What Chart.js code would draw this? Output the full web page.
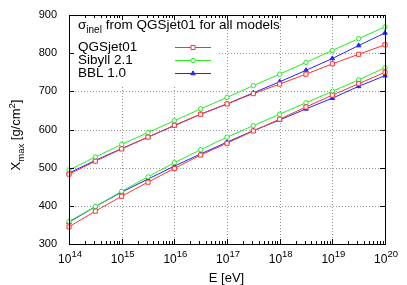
<!DOCTYPE html>
<html>
<head>
<meta charset="utf-8">
<script src="https://cdn.jsdelivr.net/npm/chart.js@4/dist/chart.umd.min.js"></script>
<style>
  html, body { margin: 0; padding: 0; background: #fff; }
  #wrap { width: 407px; height: 285px; }
</style>
</head>
<body>
<div id="wrap"><canvas id="myChart"></canvas></div>
<script>
// energies in eV (half-decade steps)
const energies = [1e14, 3.16e14, 1e15, 3.16e15, 1e16, 3.16e16, 1e17, 3.16e17, 1e18, 3.16e18, 1e19, 3.16e19, 1e20];

// Xmax in g/cm^2, proton (upper) and iron (lower) for each model
const qgsjetP  = [483, 517, 549, 580, 611, 640, 667, 694, 719, 745, 772, 797, 822];
const sibyllP  = [494, 528, 561, 592, 623, 654, 684, 715, 745, 776, 807, 838, 869];
const bblP     = [486, 519, 550, 580, 610, 640, 667, 696, 725, 755, 786, 820, 853];
const qgsjetFe = [345, 386, 425, 462, 498, 533, 564, 596, 627, 659, 690, 720, 750];
const sibyllFe = [359, 398, 438, 476, 513, 547, 580, 610, 640, 670, 700, 730, 762];
const bblFe    = [357, 398, 436, 470, 504, 536, 567, 597, 625, 654, 682, 713, 741];

const models = ['QGSjet01', 'Sibyll 2.1', 'BBL 1.0'];
const xExponents = [14, 15, 16, 17, 18, 19, 20];
const yTicks = [300, 400, 500, 600, 700, 800, 900];

const styles = [
  { color: '#ff3333', point: 'rect', radius: 2.9, fill: '#ffffff' },
  { color: '#22ee22', point: 'circle', radius: 2.2, fill: '#ffffff' },
  { color: '#2424ff', point: 'triangle', radius: 2.6, fill: '#2424ff' }
];

const series = [[qgsjetP, qgsjetFe], [sibyllP, sibyllFe], [bblP, bblFe]];

const datasets = [];
series.forEach((pair, i) => {
  pair.forEach(vals => {
    const s = styles[i];
    datasets.push({
      label: models[i],
      data: energies.map((e, k) => ({ x: e, y: vals[k] })),
      borderColor: s.color,
      borderWidth: 1,
      pointStyle: s.point,
      pointRadius: s.radius,
      pointBorderColor: s.color,
      pointBackgroundColor: s.fill,
      pointBorderWidth: 1,
      tension: 0,
      clip: false
    });
  });
});

const FONT = '"Liberation Sans", Arial, sans-serif';

const gnuplotLook = {
  id: 'gnuplotLook',
  beforeDatasetsDraw(chart) {
    const { ctx, chartArea: a, scales: { x, y } } = chart;
    ctx.save();
    ctx.strokeStyle = '#9a9a9a';
    ctx.lineWidth = 1;
    ctx.setLineDash([1, 2]);
    xExponents.slice(1, -1).forEach(p => {
      const px = Math.round(x.getPixelForValue(Math.pow(10, p))) + 0.5;
      ctx.beginPath(); ctx.moveTo(px, a.top); ctx.lineTo(px, a.bottom); ctx.stroke();
    });
    yTicks.slice(1, -1).forEach(v => {
      const py = Math.round(y.getPixelForValue(v)) + 0.5;
      ctx.beginPath(); ctx.moveTo(a.left, py); ctx.lineTo(a.right, py); ctx.stroke();
    });
    ctx.setLineDash([]);
    // opaque key box
    ctx.fillStyle = '#ffffff';
    ctx.fillRect(a.left, a.top, 149, 72);
    ctx.restore();
  },
  afterDatasetsDraw(chart) {
    const { ctx, chartArea: a, scales: { x, y } } = chart;
    const H = Chart.helpers;
    ctx.save();
    ctx.strokeStyle = '#000';
    ctx.lineWidth = 1;

    // ticks on all four sides
    ctx.beginPath();
    for (let p = 14; p <= 20; p++) {
      for (let k = 1; k <= 9; k++) {
        const v = k * Math.pow(10, p);
        if (v > 1e20) break;
        const px = Math.round(x.getPixelForValue(v)) + 0.5;
        const len = k === 1 ? 5 : 3;
        ctx.moveTo(px, a.bottom); ctx.lineTo(px, a.bottom - len);
        ctx.moveTo(px, a.top); ctx.lineTo(px, a.top + len);
      }
    }
    yTicks.forEach(v => {
      const py = Math.round(y.getPixelForValue(v)) + 0.5;
      ctx.moveTo(a.left, py); ctx.lineTo(a.left + 5, py);
      ctx.moveTo(a.right, py); ctx.lineTo(a.right - 5, py);
    });
    ctx.stroke();

    // frame
    ctx.strokeRect(Math.round(a.left) + 0.5, Math.round(a.top) + 0.5,
      Math.round(a.right - a.left), Math.round(a.bottom - a.top));

    ctx.fillStyle = '#000';
    // y tick labels
    ctx.font = '11px ' + FONT;
    ctx.textAlign = 'right';
    ctx.textBaseline = 'middle';
    yTicks.forEach(v => ctx.fillText(String(v), a.left - 12, y.getPixelForValue(v)));

    // x tick labels 10^n
    ctx.textBaseline = 'alphabetic';
    xExponents.forEach(p => {
      const px = x.getPixelForValue(Math.pow(10, p));
      ctx.font = '12px ' + FONT;
      const w1 = ctx.measureText('10').width;
      ctx.font = '9.5px ' + FONT;
      const w2 = ctx.measureText(String(p)).width;
      const start = px + 1 - (w1 + w2) / 2;
      ctx.textAlign = 'left';
      ctx.font = '12px ' + FONT;
      ctx.fillText('10', start, 263);
      ctx.font = '9.5px ' + FONT;
      ctx.fillText(String(p), start + w1, 257);
    });

    // x axis title
    ctx.font = '13px ' + FONT;
    ctx.textAlign = 'center';
    ctx.fillText('E [eV]', (a.left + a.right) / 2 - 0.5, 282);

    // y axis title: X_max [g/cm^2]
    ctx.save();
    ctx.translate(20, 135);
    ctx.rotate(-Math.PI / 2);
    ctx.textAlign = 'left';
    const parts = [['X', 13, 0], ['max', 9.5, 4], [' [g/cm', 13, 0], ['2', 9.5, -5], [']', 13, 0]];
    let total = 0;
    parts.forEach(([t, s]) => { ctx.font = s + 'px ' + FONT; total += ctx.measureText(t).width; });
    let cx = -total / 2;
    parts.forEach(([t, s, dy]) => {
      ctx.font = s + 'px ' + FONT;
      ctx.fillText(t, cx, dy);
      cx += ctx.measureText(t).width;
    });
    ctx.restore();

    // key title: sigma_inel from QGSjet01 for all models
    ctx.textAlign = 'left';
    let tx = 78;
    ctx.font = '13.5px ' + FONT;
    ctx.fillText('\u03c3', tx, 29);
    tx += ctx.measureText('\u03c3').width;
    ctx.font = '10px ' + FONT;
    ctx.fillText('inel', tx, 33);
    tx += ctx.measureText('inel').width;
    ctx.font = '13.5px ' + FONT;
    ctx.fillText(' from QGSjet01 for all models', tx, 29);

    // key entries
    ctx.textBaseline = 'middle';
    models.forEach((m, i) => {
      const yy = 47 + i * 13;
      const s = styles[i];
      ctx.fillStyle = '#000';
      ctx.font = '13.5px ' + FONT;
      ctx.fillText(m, 78, yy + 0.5);
      ctx.strokeStyle = s.color;
      ctx.beginPath(); ctx.moveTo(175, yy + 0.5); ctx.lineTo(211, yy + 0.5); ctx.stroke();
      ctx.fillStyle = s.fill;
      H.drawPoint(ctx, { pointStyle: s.point, radius: s.radius, rotation: 0, borderWidth: 1 }, 193, yy + 0.5);
    });
    ctx.restore();
  }
};

new Chart(document.getElementById('myChart'), {
  type: 'line',
  data: { datasets },
  options: {
    responsive: true,
    maintainAspectRatio: false,
    animation: false,
    layout: { padding: { top: 15, right: 22, left: 0, bottom: 0 } },
    plugins: { legend: { display: false }, tooltip: { enabled: false } },
    scales: {
      x: {
        type: 'logarithmic',
        min: 1e14,
        max: 1e20,
        grid: { display: false },
        border: { display: false },
        ticks: { display: false },
        afterFit: s => { s.height = 41; }
      },
      y: {
        type: 'linear',
        min: 300,
        max: 900,
        grid: { display: false },
        border: { display: false },
        ticks: { display: false },
        afterFit: s => { s.width = 69; }
      }
    }
  },
  plugins: [gnuplotLook]
});
</script>
</body>
</html>
